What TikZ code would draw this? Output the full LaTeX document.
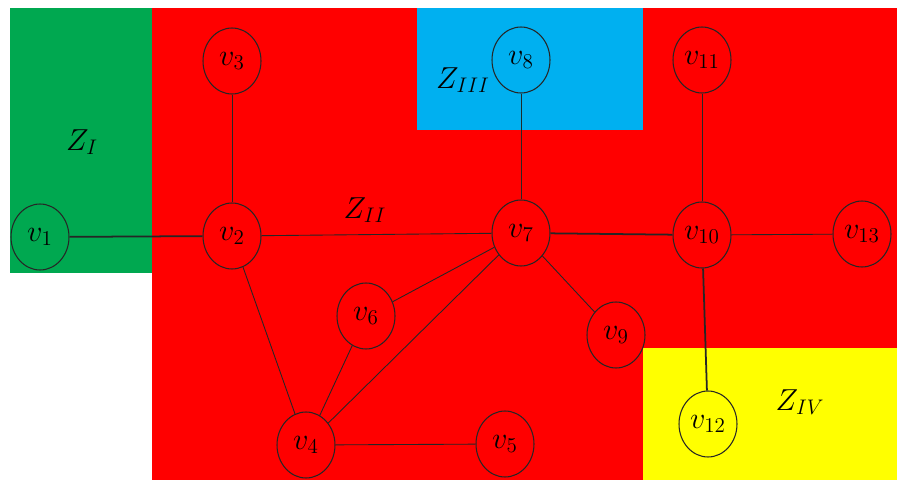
\documentclass[tikz,border=0pt]{standalone}
\usepackage{amsmath,amssymb}
\usepackage{xcolor}
\usetikzlibrary{shapes.geometric}
\definecolor{zgreen}{RGB}{0,168,80}
\definecolor{zred}{RGB}{255,0,0}
\definecolor{zblue}{RGB}{0,176,240}
\definecolor{zyellow}{RGB}{255,255,0}

\begin{document}
\begin{tikzpicture}[
  x=0.02cm, y=-0.02cm,
  vx/.style={draw=black!85, line width=0.6pt, ellipse, minimum width=1.16cm, minimum height=1.32cm, inner sep=0pt, font=\LARGE},
  zlab/.style={font=\LARGE},
  ed/.style={draw=black!85, line width=0.5pt},
  edb/.style={draw=black!85, line width=1pt}]
\useasboundingbox (0,0) rectangle (897,480);
% zones
\fill[zred] (152,8) rectangle (897,480);
\fill[zgreen] (10,8) rectangle (152,273);
\fill[zblue] (417,8) rectangle (643,130);
\fill[zyellow] (643,348) rectangle (897,480);
\node[zlab] (zi) at (82,142) {$Z_{I}$};
\node[zlab] (zii) at (365,210) {$Z_{II}$};
\node[zlab] (ziii) at (463,80) {$Z_{III}$};
\node[zlab] (ziv) at (800,402) {$Z_{IV}$};
% vertices
\node[vx] (v1) at (40,237) {$v_1$};
\node[vx] (v2) at (232,236) {$v_2$};
\node[vx] (v3) at (232,61) {$v_3$};
\node[vx] (v4) at (306,445) {$v_4$};
\node[vx] (v5) at (505,444) {$v_5$};
\node[vx] (v6) at (366,316) {$v_6$};
\node[vx] (v7) at (521,233) {$v_7$};
\node[vx] (v8) at (521,60) {$v_8$};
\node[vx] (v9) at (616,335) {$v_9$};
\node[vx] (v10) at (702,235) {$v_{10}$};
\node[vx] (v11) at (702,60) {$v_{11}$};
\node[vx] (v12) at (708,424) {$v_{12}$};
\node[vx] (v13) at (862,234) {$v_{13}$};
% edges
\draw[edb] (v1) -- (v2); \draw[ed] (v3) -- (v2); \draw[ed] (v2) -- (v7); \draw[ed] (v2) -- (v4);
\draw[ed] (v8) -- (v7); \draw[edb] (v7) -- (v10); \draw[ed] (v7) -- (v6); \draw[ed] (v7) -- (v4);
\draw[ed] (v7) -- (v9); \draw[ed] (v6) -- (v4); \draw[ed] (v4) -- (v5);
\draw[ed] (v10) -- (v11); \draw[ed] (v10) -- (v13); \draw[edb] (v10) -- (v12);
\end{tikzpicture}
\end{document}
